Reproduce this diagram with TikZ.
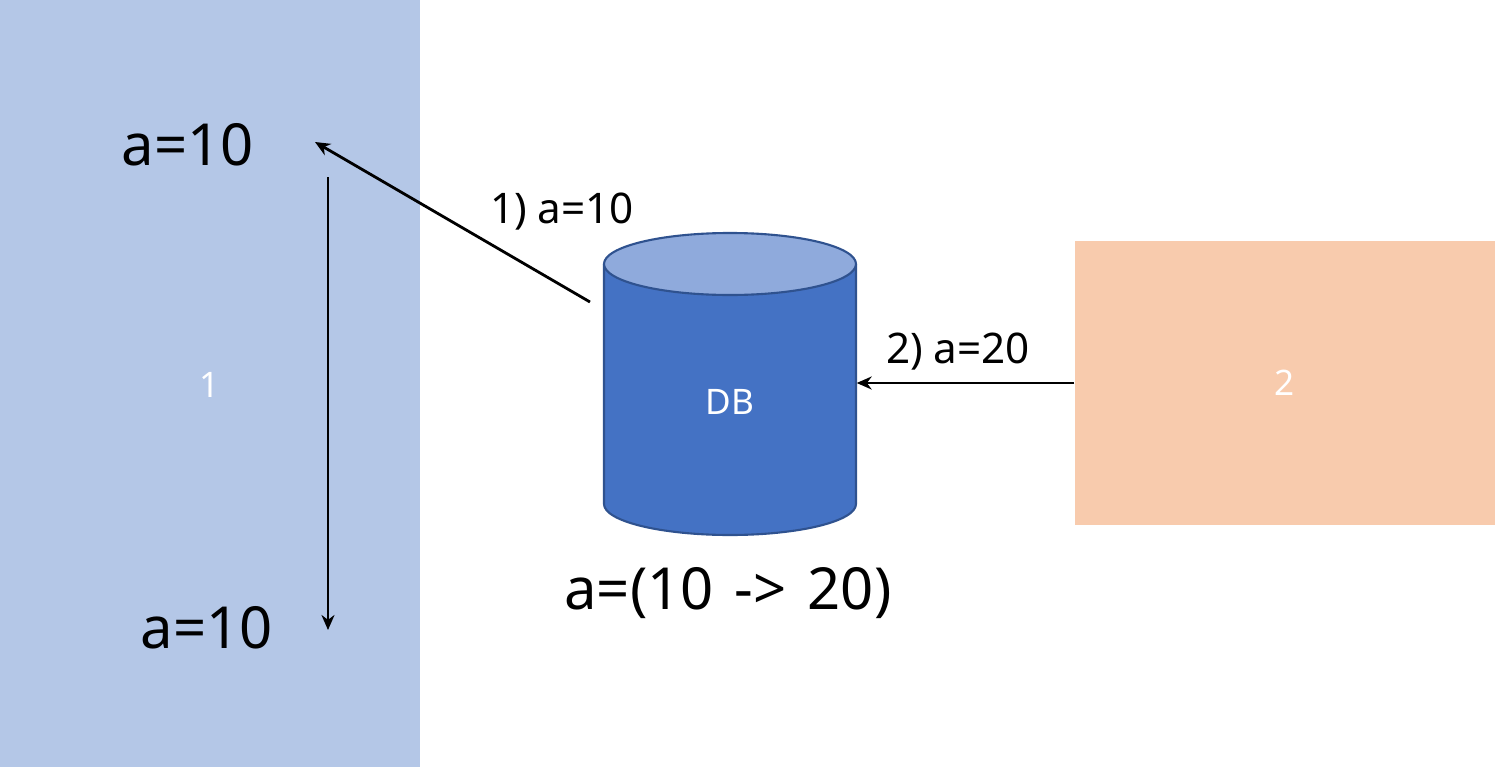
\documentclass[tikz,border=0pt]{standalone}
\usepackage{fontspec}
\setmainfont{Noto Sans}
\usepackage{tikz}
\usetikzlibrary{arrows.meta}
\definecolor{sideone}{HTML}{B4C7E7}
\definecolor{sidetwo}{HTML}{F8CBAD}
\definecolor{dbbody}{HTML}{4472C4}
\definecolor{dbtop}{HTML}{8FAADC}
\definecolor{dbedge}{HTML}{2F528F}
\newcommand{\bigtext}{\fontsize{16.5}{20}\selectfont}
\newcommand{\steptext}{\fontsize{12}{14}\selectfont}
\newcommand{\boxtext}{\fontsize{10}{12}\selectfont}

\begin{document}
\begin{tikzpicture}[>={Stealth[length=1.5mm,width=1.3mm]}, link/.style={->, line width=0.8pt}]
    \useasboundingbox (0,0) rectangle (14.95,7.67);
    \fill[sideone] (0,0) rectangle (4.20,7.67);
    \node[text=white, font=\boxtext] (one) at (2.10,3.82) {1};
    \node[fill=sidetwo, minimum width=4.20cm, minimum height=2.84cm, inner sep=0, text=white, font=\boxtext] (two) at (12.85,3.84) {2};
    \filldraw[fill=dbbody, draw=dbedge, line width=0.6pt] (6.04,5.03) -- (6.04,2.63) arc[start angle=180, end angle=360, x radius=1.26, y radius=0.31] -- (8.56,5.03);
    \filldraw[fill=dbtop, draw=dbedge, line width=0.6pt] (7.30,5.03) ellipse[x radius=1.26, y radius=0.31];
    \node[text=white, font=\boxtext, minimum width=2.52cm, inner sep=0] (db) at (7.30,3.65) {DB};
    \node[font=\bigtext] (readone) at (1.88,6.22) {a=10};
    \node[font=\bigtext] (readtwo) at (2.07,1.39) {a=10};
    \node[font=\bigtext] (value) at (7.28,1.74) {a=(10\hspace{0.6mm} -> \hspace{0.6mm}20)};
    \node[font=\steptext] (stepone) at (5.62,5.55) {1) a=10};
    \node[font=\steptext] (steptwo) at (9.58,4.15) {2) a=20};
    \coordinate (dbtail) at (5.90,4.65);
    \coordinate (readtip) at (3.15,6.25);
    \coordinate (keeptop) at (3.28,5.90);
    \coordinate (keepbot) at (3.28,1.37);
    \draw[link] (dbtail) -- (readtip);
    \draw[link] (keeptop) -- (keepbot);
    \draw[link] (two.west) -- (two.west -| db.east);
\end{tikzpicture}
\end{document}
